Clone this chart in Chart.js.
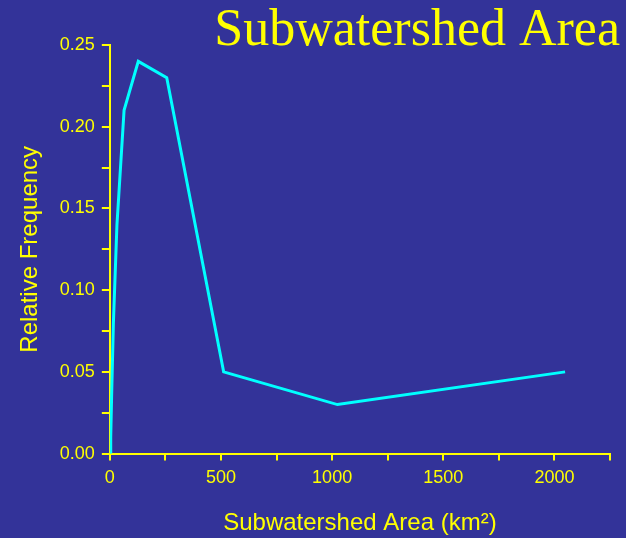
<!DOCTYPE html>
<html>
<head>
<meta charset="utf-8">
<script src="https://cdn.jsdelivr.net/npm/chart.js@4/dist/chart.umd.min.js"></script>
<style>
  html, body { margin: 0; padding: 0; background: #333399; }
  #wrap { width: 626px; height: 538px; position: relative; }
</style>
</head>
<body>
<div id="wrap"><canvas id="areaChart"></canvas></div>
<script>
// subwatershed area classes (km2) and relative frequency
const areas = [1, 4, 8, 16, 32, 64, 128, 256, 512, 1024, 2048];
const freq = [0.0, 0.01, 0.035, 0.08, 0.14, 0.21, 0.24, 0.23, 0.05, 0.03, 0.05];

const titleText = 'Subwatershed Area';
const xTitle = 'Subwatershed Area (km²)';
const yTitle = 'Relative Frequency';

const yellow = '#ffff00';
const sans = '"Liberation Sans", Arial, sans-serif';

// big serif title sits over the top-right of the plot
const titlePlugin = {
  id: 'bigTitle',
  afterDraw(chart) {
    const c = chart.ctx;
    c.save();
    c.font = '52px "Liberation Serif", "Times New Roman", serif';
    c.fillStyle = yellow;
    c.textAlign = 'right';
    c.textBaseline = 'alphabetic';
    c.fillText(titleText, 620, 45);
    c.restore();
  }
};

const onStep = (v, step) => Math.abs(v / step - Math.round(v / step)) < 1e-6;

const ctx = document.getElementById('areaChart');
new Chart(ctx, {
  type: 'line',
  data: {
    datasets: [{
      data: areas.map((a, i) => ({ x: a, y: freq[i] })),
      borderColor: '#00ffff',
      borderWidth: 3,
      pointRadius: 0,
      tension: 0,
      fill: false
    }]
  },
  options: {
    responsive: true,
    maintainAspectRatio: false,
    animation: false,
    layout: { padding: { top: 45, right: 16, left: 16, bottom: 0 } },
    plugins: { legend: { display: false }, tooltip: { enabled: false } },
    scales: {
      x: {
        type: 'linear',
        min: 0,
        max: 2250,
        ticks: {
          stepSize: 250,
          color: yellow,
          font: { family: sans, size: 18 },
          maxRotation: 0,
          autoSkip: false,
          padding: 7,
          callback: (v) => onStep(v, 500) ? String(v) : ''
        },
        grid: { drawOnChartArea: false, color: yellow, tickLength: 7, lineWidth: 2 },
        border: { color: yellow, width: 2 },
        title: {
          display: true,
          text: xTitle,
          color: yellow,
          font: { family: sans, size: 24 },
          padding: { top: 13, bottom: 0 }
        }
      },
      y: {
        min: 0,
        max: 0.25,
        ticks: {
          stepSize: 0.025,
          color: yellow,
          font: { family: sans, size: 18 },
          autoSkip: false,
          padding: 7,
          callback: (v) => onStep(v, 0.05) ? v.toFixed(2) : ''
        },
        grid: { drawOnChartArea: false, color: yellow, tickLength: 8, lineWidth: 2 },
        border: { color: yellow, width: 2 },
        title: {
          display: true,
          text: yTitle,
          color: yellow,
          font: { family: sans, size: 24 },
          padding: { top: 0, bottom: 8 }
        }
      }
    }
  },
  plugins: [titlePlugin]
});
</script>
</body>
</html>
